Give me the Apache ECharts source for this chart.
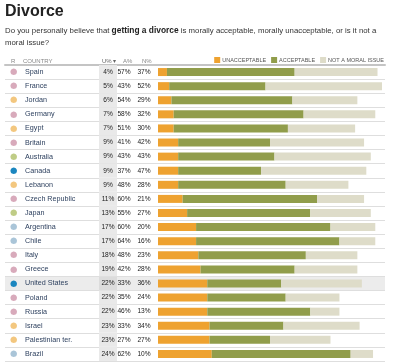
<!DOCTYPE html>
<html><head><meta charset="utf-8">
<script src="https://cdn.jsdelivr.net/npm/echarts@6/dist/echarts.min.js"></script>
<style>html,body{margin:0;padding:0;background:#fff}#c{width:400px;height:362px}</style>
</head><body><div id="c"></div>
<script>
const countries = ['Spain','France','Jordan','Germany','Egypt','Britain','Australia','Canada','Lebanon','Czech Republic','Japan','Argentina','Chile','Italy','Greece','United States','Poland','Russia','Israel','Palestinian ter.','Brazil'];
const regions = ['eu','eu','me','eu','me','eu','ap','na','me','eu','ap','la','la','eu','eu','na','eu','eu','me','me','la'];
const unacceptable = [4,5,6,7,7,9,9,9,9,11,13,17,17,18,19,22,22,22,23,23,24];
const acceptable = [57,43,54,58,51,41,43,37,48,60,55,60,64,48,42,33,35,46,33,27,62];
const notMoral = [37,52,29,32,30,42,43,47,28,21,27,20,16,23,28,36,24,13,34,27,10];
const seriesNames = ['UNACCEPTABLE','ACCEPTABLE','NOT A MORAL ISSUE'];
const highlight = 'United States';

const regionColors = {eu:'#d8aabb', me:'#f3c77f', ap:'#bfcc86', na:'#1b86bf', la:'#aac5d8'};
const barColors = ['#eea230','#919d4b','#dedcc9'];
const font = 'Liberation Sans, Arial, sans-serif';

const rich = {
  c:{width:74, align:'left', padding:[0,0,0,10], fontSize:7.2, color:'#2f4260', fontFamily:font},
  u:{width:18, height:14, align:'center', backgroundColor:'#e9e9e9', fontSize:6.6, color:'#222', fontFamily:font},
  uh:{width:18, height:14, align:'center', backgroundColor:'#dcdcdc', fontSize:6.6, color:'#222', fontFamily:font},
  a:{width:14, align:'center', fontSize:6.6, color:'#222', fontFamily:font},
  n:{width:26, align:'center', fontSize:6.6, color:'#222', fontFamily:font}
};
Object.keys(regionColors).forEach(k=>{
  rich['d_'+k] = {width:5, align:'left', padding:[0,0,0,5], fontSize:8.5, color:regionColors[k], fontFamily:'DejaVu Sans'};
});

const splitColors = countries.map(c => c===highlight ? '#ececec' : 'rgba(0,0,0,0)');

const chart = echarts.init(document.getElementById('c'));
chart.setOption({
  animation:false,
  title:[
    {text:'Divorce', left:5, top:4, padding:0, textStyle:{fontSize:16, fontWeight:'bold', color:'#222', fontFamily:font}},
    {text:'{n|Do you personally believe that }{b|getting a divorce}{n| is morally acceptable, morally unacceptable, or is it not a}\n{n|moral issue?}',
     left:5, top:25, padding:0,
     textStyle:{fontWeight:'normal', fontSize:7.8, fontFamily:font,
       rich:{n:{fontSize:7.8, fontWeight:'normal', color:'#333', fontFamily:font, lineHeight:12}, b:{fontSize:8.4, fontWeight:'bold', color:'#222', fontFamily:font, lineHeight:12}}}}
  ],
  legend:{right:16, top:57, padding:0, itemWidth:6, itemHeight:6, itemGap:5, icon:'rect',
    textStyle:{fontSize:5.5, color:'#555', fontFamily:font, padding:[0,0,0,-3]}, data:seriesNames},
  graphic:[
    {type:'text', left:11, top:58, style:{text:'R', fontSize:6, fill:'#888', fontFamily:font}},
    {type:'text', left:23, top:58, style:{text:'COUNTRY', fontSize:6, fill:'#888', fontFamily:font}},
    {type:'text', left:102, top:58, style:{text:'U% \u25BE', fontSize:6, fill:'#666', fontFamily:font}},
    {type:'text', left:123, top:58, style:{text:'A%', fontSize:6, fill:'#888', fontFamily:font}},
    {type:'text', left:142, top:58, style:{text:'N%', fontSize:6, fill:'#888', fontFamily:font}}
  ],
  grid:[
    {left:5, right:15, top:65, bottom:1},
    {left:158, right:18, top:65, bottom:1}
  ],
  xAxis:[
    {gridIndex:0, type:'value', min:0, max:1, position:'top', show:true,
     axisLine:{show:true, onZero:false, lineStyle:{color:'#c4c4c4', width:2}}, axisTick:{show:false}, axisLabel:{show:false}, splitLine:{show:false}},
    {gridIndex:1, type:'value', min:0, max:100, show:false}
  ],
  yAxis:[
    {gridIndex:0, type:'category', inverse:true, data:countries,
     axisLine:{show:false}, axisTick:{show:false},
     splitLine:{show:true, interval:0, lineStyle:{color:'#dedede', width:1}},
     splitArea:{show:true, interval:0, areaStyle:{color:splitColors}},
     axisLabel:{inside:true, interval:0, margin:0, align:'left',
       formatter:(v, i)=>{
         const uStyle = v===highlight ? 'uh' : 'u';
         return '{d_'+regions[i]+'|\u25CF}{c|'+v+'}{'+uStyle+'|'+unacceptable[i]+'%}{a|'+acceptable[i]+'%}{n|'+notMoral[i]+'%}';
       }, rich:rich}},
    {gridIndex:1, type:'category', inverse:true, data:countries, show:false}
  ],
  series:[unacceptable, acceptable, notMoral].map((d, k)=>({
    name:seriesNames[k], type:'bar', stack:'all', xAxisIndex:1, yAxisIndex:1,
    barWidth:8, data:d, itemStyle:{color:barColors[k]}
  }))
});
</script></body></html>
